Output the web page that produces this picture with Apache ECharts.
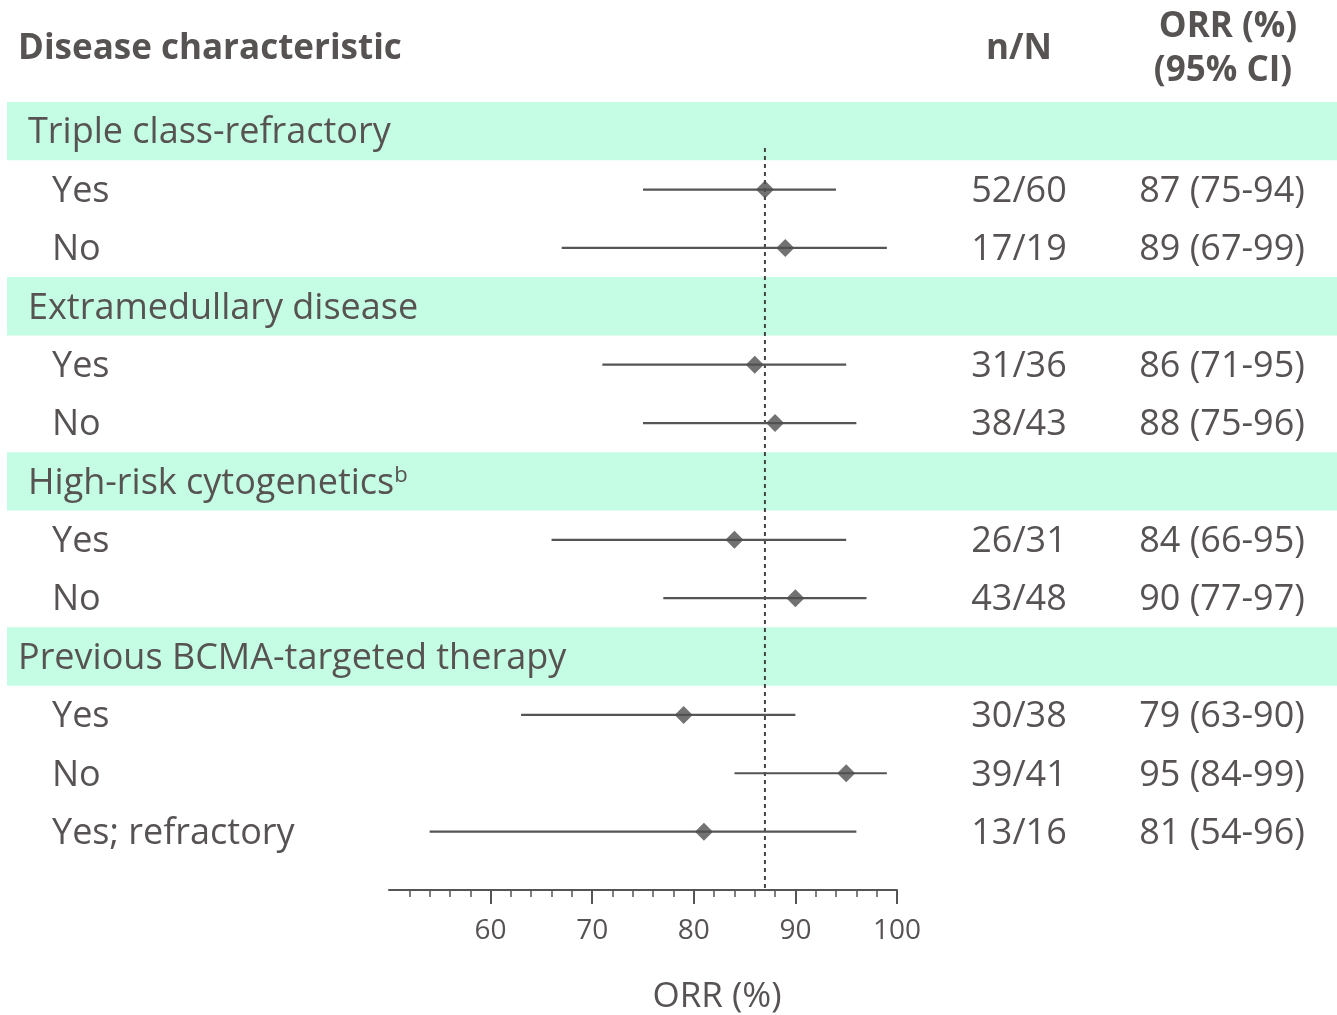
<!DOCTYPE html>
<html>
<head>
<meta charset="utf-8">
<script src="https://cdn.jsdelivr.net/npm/echarts@6/dist/echarts.min.js"></script>
<style>
html,body{margin:0;padding:0;background:#fff;}
#chart{width:1337px;height:1015px;}
</style>
</head>
<body>
<div id="chart"></div>
<script>
// ---- data ----
const groupNames = ['Triple class-refractory', 'Extramedullary disease', 'High-risk cytogenetics{sup|b}', 'Previous BCMA-targeted therapy'];
const subLabels = ['Yes', 'No', 'Yes', 'No', 'Yes', 'No', 'Yes', 'No', 'Yes; refractory'];
const subGroup = [0, 0, 1, 1, 2, 2, 3, 3, 3];
const nOverN = ['52/60', '17/19', '31/36', '38/43', '26/31', '43/48', '30/38', '39/41', '13/16'];
const orr = [87, 89, 86, 88, 84, 90, 79, 95, 81];
const ciLow = [75, 67, 71, 75, 66, 77, 63, 84, 54];
const ciHigh = [94, 99, 95, 96, 95, 97, 90, 99, 96];
const refValue = 87;
const xTicks = [60, 70, 80, 90, 100];
const xMinorTicks = [52, 54, 56, 58, 62, 64, 66, 68, 72, 74, 76, 78, 82, 84, 86, 88, 92, 94, 96, 98];
const xAxisName = 'ORR (%)';

// ---- build rows ----
const rows = [];
const groupRows = [];
const subRows = [];
groupNames.forEach((g, gi) => {
  groupRows.push(rows.length);
  rows.push({type: 'group', label: g, gi: gi});
  subGroup.forEach((sg, si) => {
    if (sg === gi) {
      subRows.push(rows.length);
      rows.push({type: 'sub', label: subLabels[si], si: si});
    }
  });
});
const nRows = rows.length;

const FONT = '"Open Sans", "Noto Sans", sans-serif';
const TXT = '#575353';
const DARK = '#555555';
const BAND = '#c4fce4';
const FS = 36;

const chart = echarts.init(document.getElementById('chart'), null, {renderer: 'canvas'});

const option = {
  backgroundColor: '#ffffff',
  animation: false,
  grid: {left: 389, right: 440, top: 102, bottom: 125, containLabel: false},
  xAxis: [
    {
      type: 'value', min: 50, max: 100, interval: 10, position: 'bottom',
      axisLine: {show: true, onZero: false, lineStyle: {color: DARK, width: 2}},
      axisTick: {show: true, length: 14, lineStyle: {color: DARK, width: 2}, customValues: xTicks},
      axisLabel: {customValues: xTicks, fontSize: 28, color: TXT, fontFamily: FONT, margin: 27},
      splitLine: {show: false}
    },
    {
      type: 'value', min: 50, max: 100, interval: 2, position: 'bottom',
      axisLine: {show: false, onZero: false},
      axisTick: {show: true, length: 7, lineStyle: {color: DARK, width: 1.5}, customValues: xMinorTicks},
      axisLabel: {show: false},
      splitLine: {show: false}
    }
  ],
  yAxis: {type: 'value', min: -0.5, max: nRows, inverse: true, show: false},
  graphic: [
    {type: 'text', x: 18, y: 49, style: {text: 'Disease characteristic', fontSize: 35, fontWeight: 'bold', fill: TXT, fontFamily: FONT, align: 'left', verticalAlign: 'middle'}},
    {type: 'text', x: 1019, y: 49, style: {text: 'n/N', fontSize: 35, fontWeight: 'bold', fill: TXT, fontFamily: FONT, align: 'center', verticalAlign: 'middle'}},
    {type: 'text', x: 1228, y: 27, style: {text: 'ORR (%)', fontSize: 35, fontWeight: 'bold', fill: TXT, fontFamily: FONT, align: 'center', verticalAlign: 'middle'}},
    {type: 'text', x: 1223, y: 71, style: {text: '(95% CI)', fontSize: 35, fontWeight: 'bold', fill: TXT, fontFamily: FONT, align: 'center', verticalAlign: 'middle'}},
    {type: 'text', x: 717, y: 997, style: {text: xAxisName, fontSize: 35, fill: TXT, fontFamily: FONT, align: 'center', verticalAlign: 'middle'}}
  ],
  series: [
    {
      type: 'custom', name: 'bands', z: 0, silent: true, xAxisIndex: 0,
      data: groupRows.map(r => [50, r]),
      renderItem: function (params, api) {
        const c = api.coord([api.value(0), api.value(1)]);
        const h = api.size([0, 1])[1];
        return {type: 'rect', shape: {x: 7, y: c[1] - h / 2, width: api.getWidth() - 7, height: h}, style: {fill: BAND}};
      }
    },
    {
      type: 'custom', name: 'ref', z: 2, silent: true, xAxisIndex: 0,
      data: [[refValue, 0.29, nRows]],
      renderItem: function (params, api) {
        const a = api.coord([api.value(0), api.value(1)]);
        const b = api.coord([api.value(0), api.value(2)]);
        return {type: 'line', shape: {x1: a[0], y1: a[1], x2: b[0], y2: b[1]}, style: {stroke: '#444', lineWidth: 2, lineDash: [4, 4]}};
      }
    },
    {
      type: 'custom', name: 'ci', z: 3, silent: true, xAxisIndex: 0,
      data: subRows.map(r => [ciLow[rows[r].si], ciHigh[rows[r].si], r]),
      renderItem: function (params, api) {
        const a = api.coord([api.value(0), api.value(2)]);
        const b = api.coord([api.value(1), api.value(2)]);
        return {type: 'line', shape: {x1: a[0], y1: a[1], x2: b[0], y2: b[1]}, style: {stroke: DARK, lineWidth: 2.2}};
      }
    },
    {
      type: 'scatter', name: 'ORR', z: 4, silent: true, xAxisIndex: 0,
      symbol: 'diamond', symbolSize: [18, 18],
      itemStyle: {color: '#4f4f4f'},
      data: subRows.map(r => [orr[rows[r].si], r])
    },
    {
      type: 'custom', name: 'table', z: 5, silent: true, xAxisIndex: 0,
      data: rows.map((r, i) => [50, i]),
      renderItem: function (params, api) {
        const idx = params.dataIndex;
        const row = rows[idx];
        const y = api.coord([50, api.value(1)])[1] + 2;
        const base = {fontSize: FS, fill: TXT, fontFamily: FONT, verticalAlign: 'middle'};
        if (row.type === 'group') {
          const x = row.gi === 3 ? 18 : 28;
          return {type: 'text', x: x, y: y, style: Object.assign({}, base, {
            text: row.label, align: 'left',
            rich: {sup: {fontSize: 22, fill: TXT, fontFamily: FONT, verticalAlign: 'top', padding: [0, 0, 16, 0]}}
          })};
        }
        const si = row.si;
        return {type: 'group', children: [
          {type: 'text', x: 52, y: y, style: Object.assign({}, base, {text: row.label, align: 'left'})},
          {type: 'text', x: 1019, y: y, style: Object.assign({}, base, {text: nOverN[si], align: 'center'})},
          {type: 'text', x: 1222, y: y, style: Object.assign({}, base, {text: orr[si] + ' (' + ciLow[si] + '-' + ciHigh[si] + ')', align: 'center'})}
        ]};
      }
    }
  ]
};
chart.setOption(option);
</script>
</body>
</html>
